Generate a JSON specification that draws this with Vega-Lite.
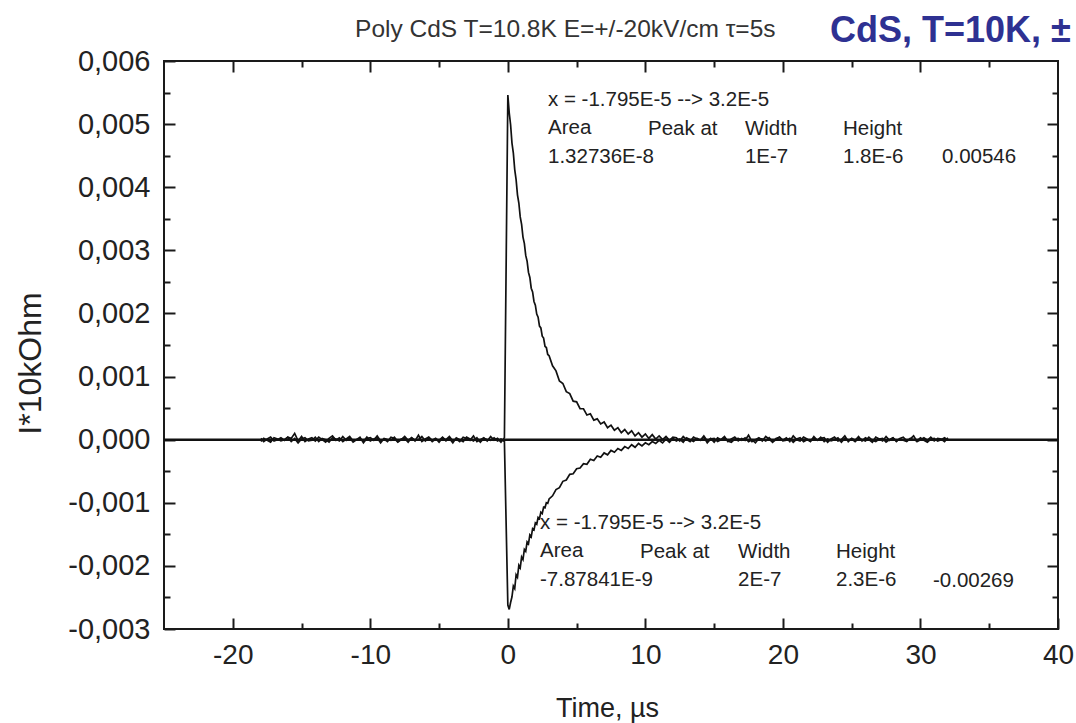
{
"$schema": "https://vega.github.io/schema/vega-lite/v6.json",
"width": 894, "height": 568,
"autosize": {"type": "none"},
"padding": {"left": 164, "top": 61, "right": 18, "bottom": 94},
"background": "white",
"config": {
  "view": {"stroke": "#1a1a1a", "strokeWidth": 2},
  "font": "Liberation Sans",
  "axis": {"domain": false, "grid": false, "tickColor": "#1a1a1a", "tickWidth": 2, "labelFont": "Liberation Sans", "labelColor": "#222", "titleFont": "Liberation Sans", "titleFontWeight": "normal", "titleColor": "#222"}
},
"datasets": {"trace": [
{"t":-17.95,"p":0.00002,"n":-0.00003},{"t":-17.75,"p":-0.00003,"n":0.00002},{"t":-17.5,"p":0.00001,"n":-0.00001},{"t":-17.25,"p":0.00004,"n":-0.00004},
{"t":-17,"p":-0.00002,"n":0.00003},{"t":-16.75,"p":0,"n":0.00001},{"t":-16.5,"p":0.00003,"n":-0.00002},{"t":-16.25,"p":-0.00001,"n":0},
{"t":-16,"p":0.00004,"n":0.00004},{"t":-15.75,"p":0.00002,"n":-0.00003},{"t":-15.5,"p":0.0001,"n":0.00002},{"t":-15.25,"p":-0.00002,"n":-0.00005},
{"t":-15,"p":0.00005,"n":0.00001},{"t":-14.75,"p":-0.00003,"n":0.00003},{"t":-14.5,"p":0.00001,"n":-0.00002},{"t":-14.25,"p":0.00003,"n":-0.00001},
{"t":-14,"p":-0.00002,"n":0.00004},{"t":-13.75,"p":0.00004,"n":-0.00003},{"t":-13.5,"p":0,"n":0.00002},{"t":-13.25,"p":-0.00004,"n":0},
{"t":-13,"p":0.00002,"n":-0.00004},{"t":-12.75,"p":0.00006,"n":0.00003},{"t":-12.5,"p":-0.00001,"n":0.00001},{"t":-12.25,"p":0.00003,"n":-0.00002},
{"t":-12,"p":-0.00003,"n":0.00005},{"t":-11.75,"p":0.00001,"n":-0.00001},{"t":-11.5,"p":0.00005,"n":0.00003},{"t":-11.25,"p":-0.00002,"n":-0.00004},
{"t":-11,"p":0,"n":0},{"t":-10.75,"p":0.00004,"n":0.00002},{"t":-10.5,"p":-0.00005,"n":-0.00003},{"t":-10.25,"p":0.00002,"n":0.00004},
{"t":-10,"p":0.00003,"n":-0.00002},{"t":-9.75,"p":-0.00001,"n":0.00001},{"t":-9.5,"p":0.00006,"n":0.00003},{"t":-9.25,"p":-0.00002,"n":-0.00005},
{"t":-9,"p":0.00001,"n":0.00002},{"t":-8.75,"p":-0.00003,"n":0},{"t":-8.5,"p":0.00004,"n":-0.00001},{"t":-8.25,"p":0.00002,"n":0.00004},
{"t":-8,"p":-0.00004,"n":-0.00003},{"t":-7.75,"p":0,"n":0.00001},{"t":-7.5,"p":0.00005,"n":0.00002},{"t":-7.25,"p":-0.00001,"n":-0.00004},
{"t":-7,"p":0.00003,"n":0.00003},{"t":-6.75,"p":-0.00002,"n":-0.00001},{"t":-6.5,"p":0.00007,"n":0},{"t":-6.25,"p":-0.00003,"n":0.00005},
{"t":-6,"p":0.00001,"n":-0.00002},{"t":-5.75,"p":0.00004,"n":0.00003},{"t":-5.5,"p":-0.00001,"n":-0.00003},{"t":-5.25,"p":0.00002,"n":0.00001},
{"t":-5,"p":-0.00004,"n":-0.00001},{"t":-4.75,"p":0.00003,"n":0.00004},{"t":-4.5,"p":0,"n":-0.00002},{"t":-4.25,"p":0.00005,"n":0.00002},
{"t":-4,"p":-0.00002,"n":-0.00005},{"t":-3.75,"p":0.00001,"n":0.00003},{"t":-3.5,"p":-0.00003,"n":0},{"t":-3.25,"p":0.00004,"n":-0.00003},
{"t":-3,"p":0.00002,"n":0.00004},{"t":-2.75,"p":-0.00001,"n":0.00001},{"t":-2.5,"p":0.00006,"n":-0.00002},{"t":-2.25,"p":-0.00003,"n":0.00003},
{"t":-2,"p":0,"n":-0.00004},{"t":-1.75,"p":0.00003,"n":0.00002},{"t":-1.5,"p":-0.00002,"n":0},{"t":-1.25,"p":0.00005,"n":-0.00001},
{"t":-1,"p":-0.00001,"n":0.00003},{"t":-0.75,"p":0.00002,"n":-0.00002},{"t":-0.5,"p":-0.00004,"n":0.00001},{"t":-0.25,"p":0.00003,"n":-0.00003},
{"t":0,"p":0.00546,"n":-0.00262},{"t":0.1,"p":0.00518,"n":-0.00269},{"t":0.2,"p":0.00499,"n":-0.00258},{"t":0.3,"p":0.0047,"n":-0.00249},
{"t":0.4,"p":0.00454,"n":-0.00232},{"t":0.5,"p":0.00428,"n":-0.00236},{"t":0.6,"p":0.00412,"n":-0.00214},{"t":0.7,"p":0.00388,"n":-0.00218},
{"t":0.8,"p":0.00375,"n":-0.00199},{"t":0.9,"p":0.00353,"n":-0.00203},{"t":1.0,"p":0.00341,"n":-0.00186},{"t":1.1,"p":0.00321,"n":-0.0019},
{"t":1.2,"p":0.00311,"n":-0.00174},{"t":1.3,"p":0.00292,"n":-0.00177},{"t":1.4,"p":0.00283,"n":-0.00162},{"t":1.5,"p":0.00265,"n":-0.00165},
{"t":1.6,"p":0.00257,"n":-0.00151},{"t":1.7,"p":0.0024,"n":-0.00154},{"t":1.8,"p":0.00234,"n":-0.00141},{"t":1.9,"p":0.00219,"n":-0.00143},
{"t":2.0,"p":0.00213,"n":-0.00132},{"t":2.1,"p":0.00199,"n":-0.00134},{"t":2.2,"p":0.00194,"n":-0.00123},{"t":2.3,"p":0.0018,"n":-0.00125},
{"t":2.4,"p":0.00177,"n":-0.00115},{"t":2.5,"p":0.00164,"n":-0.00117},{"t":2.6,"p":0.00161,"n":-0.00107},{"t":2.7,"p":0.00148,"n":-0.00108},
{"t":2.8,"p":0.00146,"n":-0.001},{"t":2.9,"p":0.00135,"n":-0.00101},{"t":3.0,"p":0.00133,"n":-0.00094},{"t":3.25,"p":0.00117,"n":-0.00089},
{"t":3.5,"p":0.00109,"n":-0.00079},{"t":3.75,"p":0.00093,"n":-0.00076},{"t":4.0,"p":0.00089,"n":-0.00066},{"t":4.25,"p":0.00076,"n":-0.00064},
{"t":4.5,"p":0.00073,"n":-0.00055},{"t":4.75,"p":0.00061,"n":-0.00054},{"t":5.0,"p":0.0006,"n":-0.00046},{"t":5.25,"p":0.00049,"n":-0.00045},
{"t":5.5,"p":0.00049,"n":-0.00038},{"t":5.75,"p":0.00039,"n":-0.00039},{"t":6.0,"p":0.00041,"n":-0.00031},{"t":6.25,"p":0.00031,"n":-0.00033},
{"t":6.5,"p":0.00033,"n":-0.00026},{"t":6.75,"p":0.00025,"n":-0.00028},{"t":7.0,"p":0.00028,"n":-0.00021},{"t":7.25,"p":0.00019,"n":-0.00024},
{"t":7.5,"p":0.00023,"n":-0.00017},{"t":7.75,"p":0.00015,"n":-0.0002},{"t":8.0,"p":0.00019,"n":-0.00014},{"t":8.25,"p":0.00011,"n":-0.00017},
{"t":8.5,"p":0.00016,"n":-0.00011},{"t":8.75,"p":0.00009,"n":-0.00014},{"t":9.0,"p":0.00014,"n":-0.00008},{"t":9.25,"p":0.00006,"n":-0.00012},
{"t":9.5,"p":0.00011,"n":-0.00006},{"t":9.75,"p":0.00004,"n":-0.0001},{"t":10.0,"p":0.00009,"n":-0.00005},{"t":10.25,"p":0.00002,"n":-0.00008},
{"t":10.5,"p":0.00008,"n":-0.00003},{"t":10.75,"p":0.00001,"n":-0.00006},{"t":11.0,"p":0.00006,"n":-0.00001},{"t":11.25,"p":0,"n":-0.00005},
{"t":11.5,"p":0.00005,"n":0.00001},{"t":11.75,"p":-0.00001,"n":-0.00004},{"t":12.0,"p":0.00004,"n":0.00002},
{"t":12.25,"p":0.00003,"n":-0.00002},{"t":12.5,"p":-0.00002,"n":0.00001},{"t":12.75,"p":0.00005,"n":-0.00004},{"t":13,"p":0,"n":0.00003},
{"t":13.25,"p":-0.00003,"n":0},{"t":13.5,"p":0.00004,"n":-0.00003},{"t":13.75,"p":0.00001,"n":0.00002},{"t":14,"p":-0.00001,"n":-0.00001},
{"t":14.25,"p":0.00006,"n":0.00004},{"t":14.5,"p":-0.00002,"n":-0.00005},{"t":14.75,"p":0.00002,"n":0.00001},{"t":15,"p":-0.00004,"n":0.00002},
{"t":15.25,"p":0.00003,"n":-0.00003},{"t":15.5,"p":0,"n":0},{"t":15.75,"p":0.00005,"n":0.00003},{"t":16,"p":-0.00003,"n":-0.00002},
{"t":16.25,"p":0.00001,"n":-0.00004},{"t":16.5,"p":0.00004,"n":0.00001},{"t":16.75,"p":-0.00002,"n":0.00002},{"t":17,"p":0.00002,"n":-0.00001},
{"t":17.25,"p":-0.00001,"n":0.00003},{"t":17.5,"p":0.00007,"n":-0.00003},{"t":17.75,"p":-0.00003,"n":0},{"t":18,"p":0,"n":-0.00005},
{"t":18.25,"p":0.00003,"n":0.00002},{"t":18.5,"p":-0.00002,"n":0.00001},{"t":18.75,"p":0.00005,"n":-0.00002},{"t":19,"p":0.00001,"n":0.00003},
{"t":19.25,"p":-0.00004,"n":-0.00003},{"t":19.5,"p":0.00002,"n":0},{"t":19.75,"p":0.00004,"n":0.00004},{"t":20,"p":-0.00001,"n":-0.00002},
{"t":20.25,"p":0.00003,"n":-0.00001},{"t":20.5,"p":-0.00003,"n":0.00002},{"t":20.75,"p":0.00006,"n":-0.00004},{"t":21,"p":0,"n":0.00001},
{"t":21.25,"p":-0.00002,"n":0.00003},{"t":21.5,"p":0.00004,"n":-0.00003},{"t":21.75,"p":0.00001,"n":0},{"t":22,"p":-0.00003,"n":-0.00002},
{"t":22.25,"p":0.00005,"n":0.00002},{"t":22.5,"p":-0.00001,"n":-0.00001},{"t":22.75,"p":0.00002,"n":0.00004},{"t":23,"p":0.00003,"n":-0.00003},
{"t":23.25,"p":-0.00004,"n":0.00001},{"t":23.5,"p":0.00001,"n":-0.00002},{"t":23.75,"p":0.00004,"n":0},{"t":24,"p":-0.00002,"n":0.00003},
{"t":24.25,"p":0,"n":-0.00004},{"t":24.5,"p":0.00006,"n":0.00002},{"t":24.75,"p":-0.00003,"n":-0.00001},{"t":25,"p":0.00002,"n":0.00001},
{"t":25.25,"p":-0.00001,"n":-0.00003},{"t":25.5,"p":0.00005,"n":0.00002},{"t":25.75,"p":-0.00002,"n":0},{"t":26,"p":0.00003,"n":-0.00002},
{"t":26.25,"p":0,"n":0.00004},{"t":26.5,"p":-0.00004,"n":-0.00001},{"t":26.75,"p":0.00004,"n":-0.00003},{"t":27,"p":0.00001,"n":0.00001},
{"t":27.25,"p":-0.00002,"n":0.00002},{"t":27.5,"p":0.00005,"n":-0.00004},{"t":27.75,"p":-0.00001,"n":0},{"t":28,"p":0.00003,"n":0.00003},
{"t":28.25,"p":-0.00003,"n":-0.00002},{"t":28.5,"p":0.00002,"n":0.00001},{"t":28.75,"p":0.00004,"n":-0.00001},{"t":29,"p":-0.00002,"n":-0.00003},
{"t":29.25,"p":0.00001,"n":0.00002},{"t":29.5,"p":0.00006,"n":0},{"t":29.75,"p":-0.00003,"n":-0.00002},{"t":30,"p":0,"n":0.00003},
{"t":30.25,"p":0.00003,"n":-0.00001},{"t":30.5,"p":-0.00001,"n":-0.00004},{"t":30.75,"p":0.00004,"n":0.00001},{"t":31,"p":-0.00002,"n":0.00002},
{"t":31.25,"p":0.00002,"n":-0.00002},{"t":31.5,"p":0.00001,"n":0},{"t":31.75,"p":-0.00003,"n":0.00003},{"t":32,"p":0.00003,"n":-0.00001}
]},
"layer": [
  {"data": {"name": "trace"},
   "transform": [{"fold": ["p", "n"], "as": ["trace", "I"]}],
   "mark": {"type": "line", "color": "#111", "strokeWidth": 1.7},
   "encoding": {
     "x": {"field": "t", "type": "quantitative", "scale": {"domain": [-25, 40], "nice": false, "zero": false},
           "axis": {"orient": "bottom", "tickSize": -11, "values": [-20, -15, -10, -5, 0, 5, 10, 15, 20, 25, 30, 35, 40],
                    "tickDash": {"condition": {"test": "abs(datum.value % 10) > 0.01", "value": [6, 30]}, "value": [30, 0]},
                    "labelExpr": "abs(datum.value % 10) > 0.01 ? '' : ((datum.value < 0 ? '-' : '') + format(abs(datum.value), 'd'))", "labelFontSize": 28, "labelPadding": 23, "labelFlush": false, "labelOverlap": false,
                    "title": "Time, µs", "titleFontSize": 27, "titleX": 443, "titleY": 79, "titleBaseline": "middle", "titleAlign": "center"}},
     "y": {"field": "I", "type": "quantitative", "scale": {"domain": [-0.003, 0.006], "nice": false, "zero": false},
           "axis": {"orient": "left", "tickSize": -11, "values": [-0.003, -0.0025, -0.002, -0.0015, -0.001, -0.0005, 0, 0.0005, 0.001, 0.0015, 0.002, 0.0025, 0.003, 0.0035, 0.004, 0.0045, 0.005, 0.0055, 0.006],
                    "tickDash": {"condition": {"test": "abs(datum.value * 1000 - round(datum.value * 1000)) > 0.01", "value": [6, 30]}, "value": [30, 0]},
                    "labelExpr": "abs(datum.value * 1000 - round(datum.value * 1000)) > 0.01 ? '' : ((datum.value < 0 ? '-' : '') + replace(format(abs(datum.value), '.3f'), '.', ','))", "labelFontSize": 29, "labelPadding": 25, "labelFlush": false, "labelOverlap": false,
                    "title": "I*10kOhm", "titleFontSize": 32, "titleAngle": -90, "titleX": -134, "titleY": 302, "titleBaseline": "middle", "titleAlign": "center"}},
     "detail": {"field": "trace"}
   }},
  {"data": {"values": [{}]}, "mark": {"type": "point", "opacity": 0},
   "encoding": {
     "x": {"datum": 0, "type": "quantitative", "scale": {"domain": [-25, 40], "nice": false, "zero": false},
           "axis": {"orient": "top", "labels": false, "title": null, "tickSize": -11, "values": [-20, -15, -10, -5, 0, 5, 10, 15, 20, 25, 30, 35],
                    "tickDash": {"condition": {"test": "abs(datum.value % 10) > 0.01", "value": [6, 30]}, "value": [30, 0]}}},
     "y": {"datum": 0, "type": "quantitative", "scale": {"domain": [-0.003, 0.006], "nice": false, "zero": false},
           "axis": {"orient": "right", "labels": false, "title": null, "tickSize": -11, "values": [-0.0025, -0.002, -0.0015, -0.001, -0.0005, 0, 0.0005, 0.001, 0.0015, 0.002, 0.0025, 0.003, 0.0035, 0.004, 0.0045, 0.005, 0.0055],
                    "tickDash": {"condition": {"test": "abs(datum.value * 1000 - round(datum.value * 1000)) > 0.01", "value": [6, 30]}, "value": [30, 0]}}}
   }},
  {"data": {"values": [{}]}, "mark": {"type": "rule", "color": "#111", "strokeWidth": 2.5},
   "encoding": {"y": {"datum": 0, "type": "quantitative", "scale": {"domain": [-0.003, 0.006], "nice": false, "zero": false}, "axis": null}}},
  {"data": {"values": [{}]}, "mark": {"type": "text", "text": ["x = -1.795E-5 --> 3.2E-5", "Area", "1.32736E-8"], "align": "left", "baseline": "alphabetic", "fontSize": 20.5, "lineHeight": 28.5, "color": "#222", "font": "Liberation Sans"},
   "encoding": {"x": {"datum": 2.92, "type": "quantitative", "scale": {"domain": [-25, 40], "nice": false, "zero": false}, "axis": null}, "y": {"datum": 0.005293, "type": "quantitative", "scale": {"domain": [-0.003, 0.006], "nice": false, "zero": false}, "axis": null}}},
  {"data": {"values": [{}]}, "mark": {"type": "text", "text": "Peak at", "align": "left", "baseline": "alphabetic", "fontSize": 20.5, "color": "#222", "font": "Liberation Sans"},
   "encoding": {"x": {"datum": 10.19, "type": "quantitative", "scale": {"domain": [-25, 40], "nice": false, "zero": false}, "axis": null}, "y": {"datum": 0.004834, "type": "quantitative", "scale": {"domain": [-0.003, 0.006], "nice": false, "zero": false}, "axis": null}}},
  {"data": {"values": [{}]}, "mark": {"type": "text", "text": ["Width", "1E-7"], "align": "left", "baseline": "alphabetic", "fontSize": 20.5, "lineHeight": 28.5, "color": "#222", "font": "Liberation Sans"},
   "encoding": {"x": {"datum": 17.24, "type": "quantitative", "scale": {"domain": [-25, 40], "nice": false, "zero": false}, "axis": null}, "y": {"datum": 0.004834, "type": "quantitative", "scale": {"domain": [-0.003, 0.006], "nice": false, "zero": false}, "axis": null}}},
  {"data": {"values": [{}]}, "mark": {"type": "text", "text": ["Height", "1.8E-6"], "align": "left", "baseline": "alphabetic", "fontSize": 20.5, "lineHeight": 28.5, "color": "#222", "font": "Liberation Sans"},
   "encoding": {"x": {"datum": 24.37, "type": "quantitative", "scale": {"domain": [-25, 40], "nice": false, "zero": false}, "axis": null}, "y": {"datum": 0.004834, "type": "quantitative", "scale": {"domain": [-0.003, 0.006], "nice": false, "zero": false}, "axis": null}}},
  {"data": {"values": [{}]}, "mark": {"type": "text", "text": "0.00546", "align": "left", "baseline": "alphabetic", "fontSize": 20.5, "color": "#222", "font": "Liberation Sans"},
   "encoding": {"x": {"datum": 31.57, "type": "quantitative", "scale": {"domain": [-25, 40], "nice": false, "zero": false}, "axis": null}, "y": {"datum": 0.00439, "type": "quantitative", "scale": {"domain": [-0.003, 0.006], "nice": false, "zero": false}, "axis": null}}},
  {"data": {"values": [{}]}, "mark": {"type": "text", "text": ["x = -1.795E-5 --> 3.2E-5", "Area", "-7.87841E-9"], "align": "left", "baseline": "alphabetic", "fontSize": 20.5, "lineHeight": 28.5, "color": "#222", "font": "Liberation Sans"},
   "encoding": {"x": {"datum": 2.34, "type": "quantitative", "scale": {"domain": [-25, 40], "nice": false, "zero": false}, "axis": null}, "y": {"datum": -0.001409, "type": "quantitative", "scale": {"domain": [-0.003, 0.006], "nice": false, "zero": false}, "axis": null}}},
  {"data": {"values": [{}]}, "mark": {"type": "text", "text": "Peak at", "align": "left", "baseline": "alphabetic", "fontSize": 20.5, "color": "#222", "font": "Liberation Sans"},
   "encoding": {"x": {"datum": 9.61, "type": "quantitative", "scale": {"domain": [-25, 40], "nice": false, "zero": false}, "axis": null}, "y": {"datum": -0.001869, "type": "quantitative", "scale": {"domain": [-0.003, 0.006], "nice": false, "zero": false}, "axis": null}}},
  {"data": {"values": [{}]}, "mark": {"type": "text", "text": ["Width", "2E-7"], "align": "left", "baseline": "alphabetic", "fontSize": 20.5, "lineHeight": 28.5, "color": "#222", "font": "Liberation Sans"},
   "encoding": {"x": {"datum": 16.74, "type": "quantitative", "scale": {"domain": [-25, 40], "nice": false, "zero": false}, "axis": null}, "y": {"datum": -0.001869, "type": "quantitative", "scale": {"domain": [-0.003, 0.006], "nice": false, "zero": false}, "axis": null}}},
  {"data": {"values": [{}]}, "mark": {"type": "text", "text": ["Height", "2.3E-6"], "align": "left", "baseline": "alphabetic", "fontSize": 20.5, "lineHeight": 28.5, "color": "#222", "font": "Liberation Sans"},
   "encoding": {"x": {"datum": 23.86, "type": "quantitative", "scale": {"domain": [-25, 40], "nice": false, "zero": false}, "axis": null}, "y": {"datum": -0.001869, "type": "quantitative", "scale": {"domain": [-0.003, 0.006], "nice": false, "zero": false}, "axis": null}}},
  {"data": {"values": [{}]}, "mark": {"type": "text", "text": "-0.00269", "align": "left", "baseline": "alphabetic", "fontSize": 20.5, "color": "#222", "font": "Liberation Sans"},
   "encoding": {"x": {"datum": 30.91, "type": "quantitative", "scale": {"domain": [-25, 40], "nice": false, "zero": false}, "axis": null}, "y": {"datum": -0.002328, "type": "quantitative", "scale": {"domain": [-0.003, 0.006], "nice": false, "zero": false}, "axis": null}}},
  {"data": {"values": [{}]}, "mark": {"type": "text", "text": "Poly CdS T=10.8K E=+/-20kV/cm τ=5s", "align": "left", "baseline": "alphabetic", "fontSize": 24.5, "color": "#333", "font": "Liberation Sans"},
   "encoding": {"x": {"datum": -11.11, "type": "quantitative", "scale": {"domain": [-25, 40], "nice": false, "zero": false}, "axis": null}, "y": {"datum": 0.00638, "type": "quantitative", "scale": {"domain": [-0.003, 0.006], "nice": false, "zero": false}, "axis": null}}},
  {"data": {"values": [{}]}, "mark": {"type": "text", "text": "CdS, T=10K, ±", "align": "left", "baseline": "alphabetic", "fontSize": 36, "fontWeight": "bold", "color": "#2E3192", "font": "Liberation Sans"},
   "encoding": {"x": {"datum": 23.42, "type": "quantitative", "scale": {"domain": [-25, 40], "nice": false, "zero": false}, "axis": null}, "y": {"datum": 0.006301, "type": "quantitative", "scale": {"domain": [-0.003, 0.006], "nice": false, "zero": false}, "axis": null}}}
],
"resolve": {"axis": {"x": "independent", "y": "independent"}}
}
